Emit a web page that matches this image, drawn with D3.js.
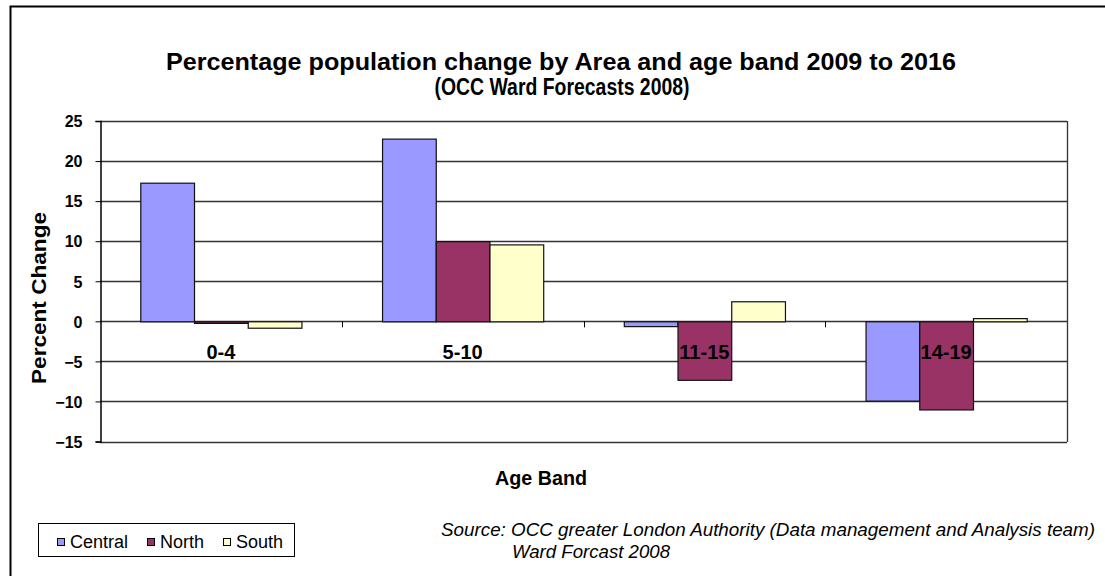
<!DOCTYPE html>
<html>
<head>
<meta charset="utf-8">
<script src="https://cdn.jsdelivr.net/npm/d3@7"></script>
<style>
  html, body { margin: 0; padding: 0; background: #fff; }
  svg { display: block; }
  text { font-family: "Liberation Sans", Arial, sans-serif; fill: #000; }
</style>
</head>
<body>
<svg id="chart" width="1105" height="576"></svg>
<script>
// Age bands and percentage change per area, 2009 to 2016
const ageBands = ["0-4", "5-10", "11-15", "14-19"];
const areas = ["Central", "North", "South"];
const central = [17.3, 22.8, -0.6, -9.9];
const north = [-0.2, 10.0, -7.3, -11.0];
const south = [-0.8, 9.6, 2.5, 0.4];
const yTicks = [-15, -10, -5, 0, 5, 10, 15, 20, 25];
const areaColors = ["#9999FF", "#993366", "#FFFFCC"];

const seriesValues = [central, north, south];

const svg = d3.select("#chart");

// Outer chart frame (runs off the right and bottom edges)
svg.append("rect")
  .attr("x", 10.5).attr("y", 6.5)
  .attr("width", 1120).attr("height", 600)
  .attr("fill", "#fff").attr("stroke", "#000").attr("stroke-width", 2);

const plot = { left: 100, right: 1067, top: 121, bottom: 441.5 };

const x = d3.scaleBand().domain(ageBands).range([plot.left, plot.right]).padding(0);
const cw = x.bandwidth();
const gapHalf = cw * 0.75 / 4.5;
const xs = d3.scaleBand().domain(areas).range([gapHalf, cw - gapHalf]).padding(0);
const y = d3.scaleLinear().domain([-15, 25]).range([plot.bottom, plot.top]);

// Gridlines
svg.append("g")
  .selectAll("line").data(yTicks).join("line")
  .attr("x1", plot.left).attr("x2", plot.right)
  .attr("y1", d => Math.round(y(d)) + 0.5).attr("y2", d => Math.round(y(d)) + 0.5)
  .attr("stroke", "#333").attr("stroke-width", 1.3);

// Right edge of plot area
svg.append("line")
  .attr("x1", plot.right + 0.5).attr("x2", plot.right + 0.5)
  .attr("y1", plot.top).attr("y2", plot.bottom + 0.5)
  .attr("stroke", "#333").attr("stroke-width", 1.3);

// Y axis
const yAxis = svg.append("g")
  .attr("transform", `translate(${plot.left + 0.5},0)`)
  .call(d3.axisLeft(y).tickValues(yTicks).tickSize(5).tickPadding(13).tickFormat(d3.format("d")));
yAxis.select(".domain").attr("stroke", "#000").attr("stroke-width", 1.5);
yAxis.selectAll(".tick line").attr("stroke", "#000");
yAxis.selectAll(".tick text")
  .attr("font-family", "Liberation Sans, Arial, sans-serif")
  .attr("font-size", 16).attr("font-weight", "bold").attr("fill", "#000")
  .attr("dy", "0.36em");

// Bars
const groups = svg.append("g").selectAll("g").data(ageBands).join("g")
  .attr("transform", d => `translate(${x(d)},0)`);

groups.selectAll("rect")
  .data((band, i) => areas.map((a, j) => ({ area: a, value: seriesValues[j][i], color: areaColors[j] })))
  .join("rect")
  .attr("x", d => xs(d.area) + 0.5)
  .attr("width", xs.bandwidth())
  .attr("y", d => Math.min(y(d.value), y(0)) + 0.5)
  .attr("height", d => Math.max(Math.abs(y(d.value) - y(0)), 1))
  .attr("fill", d => d.color)
  .attr("stroke", "#111").attr("stroke-width", 1.2);

// Category ticks on the zero line
svg.append("g")
  .selectAll("line").data(ageBands.slice(1)).join("line")
  .attr("x1", d => Math.round(x(d)) + 0.5).attr("x2", d => Math.round(x(d)) + 0.5)
  .attr("y1", y(0)).attr("y2", y(0) + 6)
  .attr("stroke", "#000").attr("stroke-width", 1);

// Category labels
svg.append("g")
  .selectAll("text").data(ageBands).join("text")
  .attr("x", d => x(d) + cw / 2)
  .attr("y", 359)
  .attr("text-anchor", "middle")
  .attr("font-size", 20).attr("font-weight", "bold")
  .text(d => d);

// Title
const title = svg.append("g").attr("font-weight", "bold").attr("font-size", 23);
title.append("text").attr("x", 561).attr("y", 70).attr("text-anchor", "middle")
  .attr("textLength", 790).attr("lengthAdjust", "spacingAndGlyphs")
  .text("Percentage population change by Area and age band 2009 to 2016");
title.append("text").attr("x", 562).attr("y", 95).attr("text-anchor", "middle")
  .attr("textLength", 255).attr("lengthAdjust", "spacingAndGlyphs")
  .text("(OCC Ward Forecasts 2008)");

// Axis titles
svg.append("text")
  .attr("transform", "translate(46,298) rotate(-90)")
  .attr("text-anchor", "middle")
  .attr("font-size", 20).attr("font-weight", "bold")
  .attr("textLength", 172).attr("lengthAdjust", "spacingAndGlyphs")
  .text("Percent Change");

svg.append("text")
  .attr("x", 541).attr("y", 485)
  .attr("text-anchor", "middle")
  .attr("font-size", 20).attr("font-weight", "bold")
  .attr("textLength", 92).attr("lengthAdjust", "spacingAndGlyphs")
  .text("Age Band");

// Legend
const legend = svg.append("g");
legend.append("rect")
  .attr("x", 38.5).attr("y", 523.5).attr("width", 256).attr("height", 33)
  .attr("fill", "#fff").attr("stroke", "#000").attr("stroke-width", 1);
const legendX = [57, 147, 223];
const items = legend.selectAll("g.item").data(areas).join("g")
  .attr("class", "item")
  .attr("transform", (d, i) => `translate(${legendX[i]},0)`);
items.append("rect")
  .attr("x", 0.5).attr("y", 538.5).attr("width", 7).attr("height", 7)
  .attr("fill", (d, i) => areaColors[i]).attr("stroke", "#000").attr("stroke-width", 1);
items.append("text")
  .attr("x", 13).attr("y", 548)
  .attr("font-size", 18)
  .text(d => d);

// Source note
const note = svg.append("g").attr("font-style", "italic").attr("font-size", 18);
note.append("text").attr("x", 441).attr("y", 536)
  .attr("textLength", 654).attr("lengthAdjust", "spacingAndGlyphs")
  .text("Source: OCC greater London Authority (Data management and Analysis team)");
note.append("text").attr("x", 512).attr("y", 558)
  .attr("textLength", 158).attr("lengthAdjust", "spacingAndGlyphs")
  .text("Ward Forcast 2008");
</script>
</body>
</html>
